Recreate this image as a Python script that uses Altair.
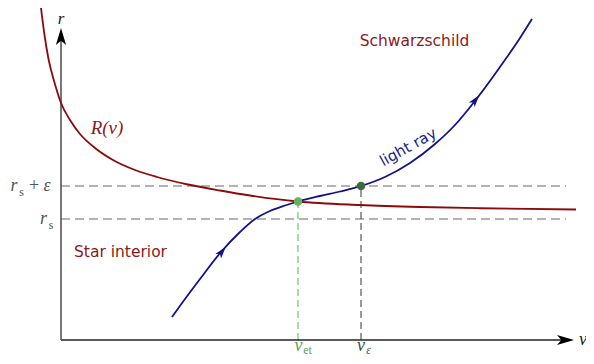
import altair as alt
import pandas as pd

# ---- data (v, r units) ----
red_v = [-0.40, -0.33, -0.25, -0.13, 0.00, 0.18, 0.38, 0.68, 1.04, 1.48, 1.92, 2.54, 3.18, 3.78, 4.74, 5.98, 7.18, 8.38, 10.30]
red_r = [6.64, 6.10, 5.62, 5.15, 4.74, 4.40, 4.12, 3.84, 3.60, 3.40, 3.26, 3.11, 2.99, 2.89, 2.77, 2.70, 2.66, 2.635, 2.61]

ray_v = [2.22, 2.48, 2.78, 3.20, 3.58, 3.88, 4.18, 4.48, 4.74, 5.18, 5.58, 6.00, 6.48, 6.98, 7.48, 7.88, 8.34, 8.78, 9.18, 9.42]
ray_r = [0.46, 0.82, 1.22, 1.76, 2.16, 2.42, 2.58, 2.69, 2.77, 2.88, 2.97, 3.08, 3.26, 3.54, 3.92, 4.30, 4.86, 5.46, 6.04, 6.42]

r_s = 2.42
r_s_eps = 3.08
v_et = 4.74
v_eps = 6.00
r_et = 2.77

X_DOM = [-1.06, 10.5]
Y_DOM = [-0.32, 6.64]

xs = alt.Scale(domain=X_DOM, nice=False, zero=False)
ys = alt.Scale(domain=Y_DOM, nice=False, zero=False)

def X(f="v"):
    return alt.X(f"{f}:Q", scale=xs, axis=None)

def Y(f="r"):
    return alt.Y(f"{f}:Q", scale=ys, axis=None)

red_df = pd.DataFrame({"v": red_v, "r": red_r, "o": range(len(red_v))})
ray_df = pd.DataFrame({"v": ray_v, "r": ray_r, "o": range(len(ray_v))})

# dashed horizontal lines
hl = alt.Chart(pd.DataFrame({"v": [0, 0], "v2": [10.1, 10.1], "r": [r_s_eps, r_s]})).mark_rule(
    color="#9a9a9a", strokeWidth=1.5, strokeDash=[9, 5]
).encode(x=X(), x2="v2:Q", y=Y())

vl_green = alt.Chart(pd.DataFrame({"v": [v_et], "r": [0], "r2": [r_et]})).mark_rule(
    color="#8fcb8f", strokeWidth=1.5, strokeDash=[7, 4]
).encode(x=X(), y=Y(), y2="r2:Q")

vl_gray = alt.Chart(pd.DataFrame({"v": [v_eps], "r": [0], "r2": [r_s_eps]})).mark_rule(
    color="#5a6a5a", strokeWidth=1.3, strokeDash=[7, 4]
).encode(x=X(), y=Y(), y2="r2:Q")

# axes
xaxis = alt.Chart(pd.DataFrame({"v": [0], "v2": [10.1], "r": [0]})).mark_rule(
    color="#222", strokeWidth=1.3
).encode(x=X(), x2="v2:Q", y=Y())
yaxis = alt.Chart(pd.DataFrame({"v": [0], "r": [0], "r2": [6.06]})).mark_rule(
    color="#555", strokeWidth=1.6
).encode(x=X(), y=Y(), y2="r2:Q")

ARROW = "M0,-1L0.6,1L0,0.5L-0.6,1Z"
axis_arrows = alt.Chart(pd.DataFrame({"v": [10.09, 0], "r": [0, 6.07], "a": [90, 0]})).mark_point(
    shape=ARROW, filled=True, size=289, color="#000", opacity=1
).encode(x=X(), y=Y(), angle=alt.Angle("a:Q", scale=None))

red_line = alt.Chart(red_df).mark_line(
    color="#8b0a0a", strokeWidth=1.8, interpolate="monotone", clip=True
).encode(x=X(), y=Y(), order="o:Q")

ray_line = alt.Chart(ray_df).mark_line(
    color="#12128c", strokeWidth=1.8, interpolate="monotone"
).encode(x=X(), y=Y(), order="o:Q")

ray_arrows = alt.Chart(pd.DataFrame({"v": [3.22, 8.29], "r": [1.77, 4.80], "a": [39, 38]})).mark_point(
    shape=ARROW, filled=True, size=150, color="#12128c", opacity=1
).encode(x=X(), y=Y(), angle=alt.Angle("a:Q", scale=None))

pts = alt.Chart(pd.DataFrame({"v": [v_et, v_eps], "r": [r_et, r_s_eps], "c": ["#62b062", "#3d6b3d"]})).mark_point(
    filled=True, size=72, opacity=1, shape="circle"
).encode(x=X(), y=Y(), color=alt.Color("c:N", scale=None))

# ---- labels ----
math_lab = pd.DataFrame({
    "v": [0.0, 10.44, 0.92, -0.94, -0.28, -0.35, 4.75, 6.0],
    "r": [6.43, 0.0, 4.24, 3.08, 3.08, 2.42, -0.11, -0.11],
    "t": ["r", "v", "R(v)", "r", "ε", "r", "v", "v"],
    "c": ["#222", "#222", "#8b1a1a", "#555", "#555", "#555", "#5a9e5a", "#3f4f3f"],
    "s": [17, 18, 19, 18, 18, 18, 18, 18],
})
math_txt = alt.Chart(math_lab).mark_text(
    font="Liberation Serif", fontStyle="italic", baseline="middle", align="center"
).encode(x=X(), y=Y(), text="t:N", color=alt.Color("c:N", scale=None),
         size=alt.Size("s:Q", scale=None))

plus_txt = alt.Chart(pd.DataFrame({"v": [-0.54], "r": [3.08], "t": ["+"]})).mark_text(
    font="Liberation Serif", fontSize=18, baseline="middle", align="center", color="#555"
).encode(x=X(), y=Y(), text="t:N")

sub_lab = pd.DataFrame({
    "v": [-0.79, -0.2, 4.93],
    "r": [2.96, 2.30, -0.19],
    "t": ["s", "s", "et"],
    "c": ["#555", "#555", "#5a9e5a"],
})
sub_txt = alt.Chart(sub_lab).mark_text(
    font="Liberation Serif", fontSize=12, baseline="middle", align="center"
).encode(x=X(), y=Y(), text="t:N", color=alt.Color("c:N", scale=None))

sub_eps = alt.Chart(pd.DataFrame({"v": [6.15], "r": [-0.19], "t": ["ε"]})).mark_text(
    font="Liberation Serif", fontStyle="italic", fontSize=12, baseline="middle", align="center", color="#3f4f3f"
).encode(x=X(), y=Y(), text="t:N")

sans_lab = pd.DataFrame({
    "v": [7.07, 1.19],
    "r": [5.98, 1.77],
    "t": ["Schwarzschild", "Star interior"],
})
sans_txt = alt.Chart(sans_lab).mark_text(
    font="DejaVu Sans", fontSize=15.5, baseline="middle", align="center", color="#8b1a1a"
).encode(x=X(), y=Y(), text="t:N")

ray_txt = alt.Chart(pd.DataFrame({"v": [6.94], "r": [3.86], "t": ["light ray"]})).mark_text(
    font="DejaVu Sans", fontSize=15, baseline="middle", align="center", color="#1a1a8c", angle=331
).encode(x=X(), y=Y(), text="t:N")

chart = alt.layer(
    hl, vl_green, vl_gray, xaxis, yaxis, axis_arrows, red_line, ray_line, ray_arrows, pts,
    math_txt, plus_txt, sub_txt, sub_eps, sans_txt, ray_txt
).properties(
    width=578, height=348, padding=0, autosize=alt.AutoSizeParams(type="none")
).configure_view(stroke=None)

chart.save("out.html", embed_options={"renderer": "svg", "actions": False})
